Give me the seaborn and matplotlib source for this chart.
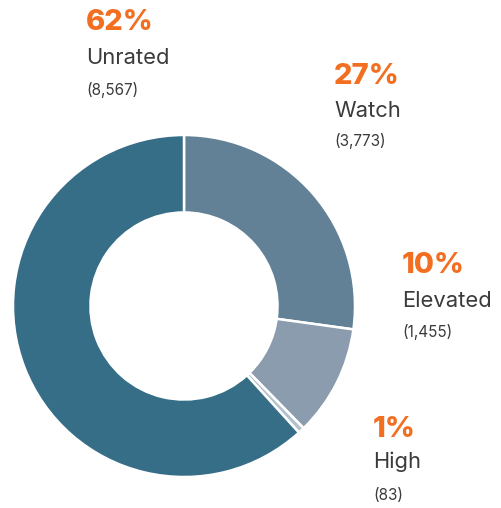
import matplotlib
matplotlib.use("Agg")
import matplotlib.pyplot as plt
import seaborn as sns

# data (clockwise from 12 o'clock)
categories = ["Watch", "Elevated", "High", "Unrated"]
counts = [3773, 1455, 83, 8567]
pct_labels = ["27%", "10%", "1%", "62%"]
count_labels = ["(3,773)", "(1,455)", "(83)", "(8,567)"]

colors = ["#628196", "#8a9cad", "#b3c3ce", "#366d87"]
orange = "#f26f21"
grey = "#3b3b3d"

sns.set_style("white")
plt.rcParams["font.family"] = ["Inter", "DejaVu Sans"]

W, H = 501, 508
fig = plt.figure(figsize=(W / 100, H / 100), dpi=100)
ax = fig.add_axes([0, 0, 1, 1])

R = 171
ax.pie(counts, colors=colors, startangle=90, counterclock=False,
       center=(184, H - 306), radius=R, frame=True,
       wedgeprops=dict(width=R * 0.453, edgecolor="white", linewidth=1.8))
ax.set_xlim(0, W)
ax.set_ylim(0, H)
ax.axis("off")

# label positions (x, baseline of pct, baseline of name, baseline of count) in pixels from top
label_pos = {
    "Watch": (334, 84, 117, 146),
    "Elevated": (402, 273, 307, 337),
    "High": (373, 437, 468, 500),
    "Unrated": (86, 30, 64, 95),
}

for cat, pct, cnt in zip(categories, pct_labels, count_labels):
    x, y1, y2, y3 = label_pos[cat]
    ax.text(x, H - y1, pct, color=orange, fontsize=21, fontweight="heavy",
            va="baseline", ha="left")
    ax.text(x, H - y2, cat, color=grey, fontsize=15.8, va="baseline", ha="left")
    ax.text(x, H - y3, cnt, color=grey, fontsize=11, va="baseline", ha="left")

fig.savefig("out.png", dpi=100, facecolor="white")
